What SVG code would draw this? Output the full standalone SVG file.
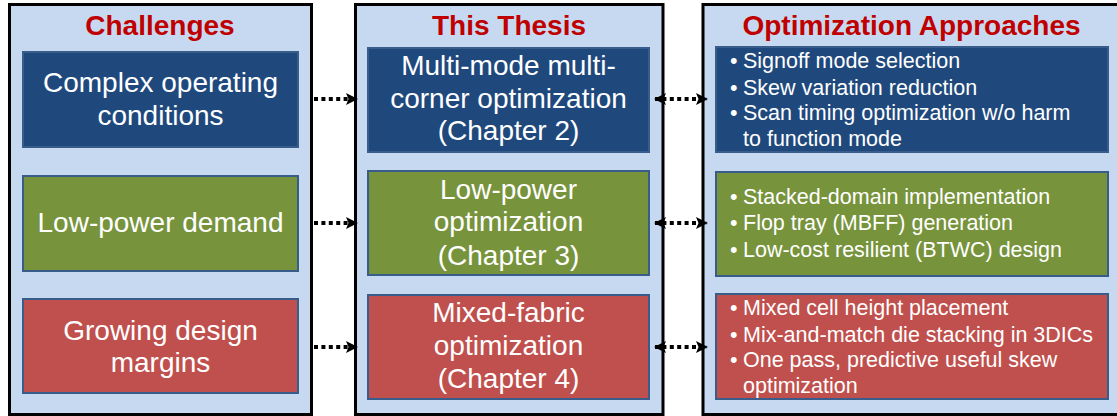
<svg xmlns="http://www.w3.org/2000/svg" width="1117" height="416" viewBox="0 0 1117 416">
  <style>
    .panel { fill: #C6D9F1; stroke: #000; stroke-width: 3; }
    .box { stroke: #385D8A; stroke-width: 2; }
    .blue { fill: #1F497D; }
    .green { fill: #77933C; }
    .red { fill: #C0504D; }
    .title { font-family: "Liberation Sans", Arial, sans-serif; font-size: 28px; font-weight: bold; fill: #C00000; text-anchor: middle; }
    .big { font-family: "Liberation Sans", Arial, sans-serif; font-size: 28px; fill: #fff; text-anchor: middle; }
    .small { font-family: "Liberation Sans", Arial, sans-serif; font-size: 21.5px; fill: #fff; }
    .dot { stroke: #000; stroke-width: 4; stroke-dasharray: 4 3.4; fill: none; }
  </style>
  <defs>
    <marker id="head" viewBox="0 0 12 12" refX="11" refY="6" markerWidth="12" markerHeight="12" markerUnits="userSpaceOnUse" orient="auto-start-reverse">
      <path d="M0,0 L12,6 L0,12 L2.5,6 Z" fill="#000"/>
    </marker>
  </defs>

  <!-- column panels -->
  <g id="panel-challenges">
    <rect class="panel" x="9.5" y="4.5" width="302" height="410"/>
    <text class="title" x="160" y="35">Challenges</text>
  </g>
  <g id="panel-thesis">
    <rect class="panel" x="355.5" y="4.5" width="307.5" height="410"/>
    <text class="title" x="509" y="35">This Thesis</text>
  </g>
  <g id="panel-approaches">
    <rect class="panel" x="703" y="4.5" width="420" height="410"/>
    <text class="title" x="911.5" y="35">Optimization Approaches</text>
  </g>

  <!-- challenges -->
  <g id="ch-complex">
    <rect class="box blue" x="23" y="52" width="275" height="95"/>
    <text class="big" x="160.5" y="92">Complex operating</text>
    <text class="big" x="160.5" y="125">conditions</text>
  </g>
  <g id="ch-lowpower">
    <rect class="box green" x="23" y="176" width="275" height="95"/>
    <text class="big" x="160.5" y="232">Low-power demand</text>
  </g>
  <g id="ch-margins">
    <rect class="box red" x="23" y="299" width="275" height="94"/>
    <text class="big" x="160.5" y="340">Growing design</text>
    <text class="big" x="160.5" y="372">margins</text>
  </g>

  <!-- thesis chapters -->
  <g id="th-mmmc">
    <rect class="box blue" x="368" y="48" width="281" height="104"/>
    <text class="big" x="508.5" y="75">Multi-mode multi-</text>
    <text class="big" x="508.5" y="108">corner optimization</text>
    <text class="big" x="508.5" y="140">(Chapter 2)</text>
  </g>
  <g id="th-lowpower">
    <rect class="box green" x="368" y="171" width="281" height="104"/>
    <text class="big" x="508.5" y="199">Low-power</text>
    <text class="big" x="508.5" y="231">optimization</text>
    <text class="big" x="508.5" y="265">(Chapter 3)</text>
  </g>
  <g id="th-mixed">
    <rect class="box red" x="368" y="295" width="281" height="104"/>
    <text class="big" x="508.5" y="322">Mixed-fabric</text>
    <text class="big" x="508.5" y="355">optimization</text>
    <text class="big" x="508.5" y="388">(Chapter 4)</text>
  </g>

  <!-- approaches -->
  <g id="ap-mmmc">
    <rect class="box blue" x="716" y="47" width="392" height="105"/>
    <text class="small" x="730" y="68">•</text><text class="small" x="743" y="68">Signoff mode selection</text>
    <text class="small" x="730" y="95">•</text><text class="small" x="743" y="95">Skew variation reduction</text>
    <text class="small" x="730" y="120">•</text><text class="small" x="743" y="120">Scan timing optimization w/o harm</text>
    <text class="small" x="743" y="146">to function mode</text>
  </g>
  <g id="ap-lowpower">
    <rect class="box green" x="716" y="172" width="392" height="104"/>
    <text class="small" x="730" y="204">•</text><text class="small" x="743" y="204">Stacked-domain implementation</text>
    <text class="small" x="730" y="230">•</text><text class="small" x="743" y="230">Flop tray (MBFF) generation</text>
    <text class="small" x="730" y="257">•</text><text class="small" x="743" y="257">Low-cost resilient (BTWC) design</text>
  </g>
  <g id="ap-mixed">
    <rect class="box red" x="716" y="294" width="392" height="105"/>
    <text class="small" x="730" y="315">•</text><text class="small" x="743" y="315">Mixed cell height placement</text>
    <text class="small" x="730" y="342">•</text><text class="small" x="743" y="342">Mix-and-match die stacking in 3DICs</text>
    <text class="small" x="730" y="367">•</text><text class="small" x="743" y="367">One pass, predictive useful skew</text>
    <text class="small" x="743" y="393">optimization</text>
  </g>

  <!-- dotted connectors -->
  <g id="connectors">
    <line class="dot" x1="314" y1="99" x2="357" y2="99" marker-end="url(#head)"/>
    <line class="dot" x1="314" y1="223" x2="357" y2="223" marker-end="url(#head)"/>
    <line class="dot" x1="314" y1="347" x2="357" y2="347" marker-end="url(#head)"/>
    <line class="dot" x1="655" y1="99" x2="707" y2="99" marker-start="url(#head)" marker-end="url(#head)"/>
    <line class="dot" x1="655" y1="223" x2="707" y2="223" marker-start="url(#head)" marker-end="url(#head)"/>
    <line class="dot" x1="655" y1="347" x2="707" y2="347" marker-start="url(#head)" marker-end="url(#head)"/>
  </g>
</svg>
